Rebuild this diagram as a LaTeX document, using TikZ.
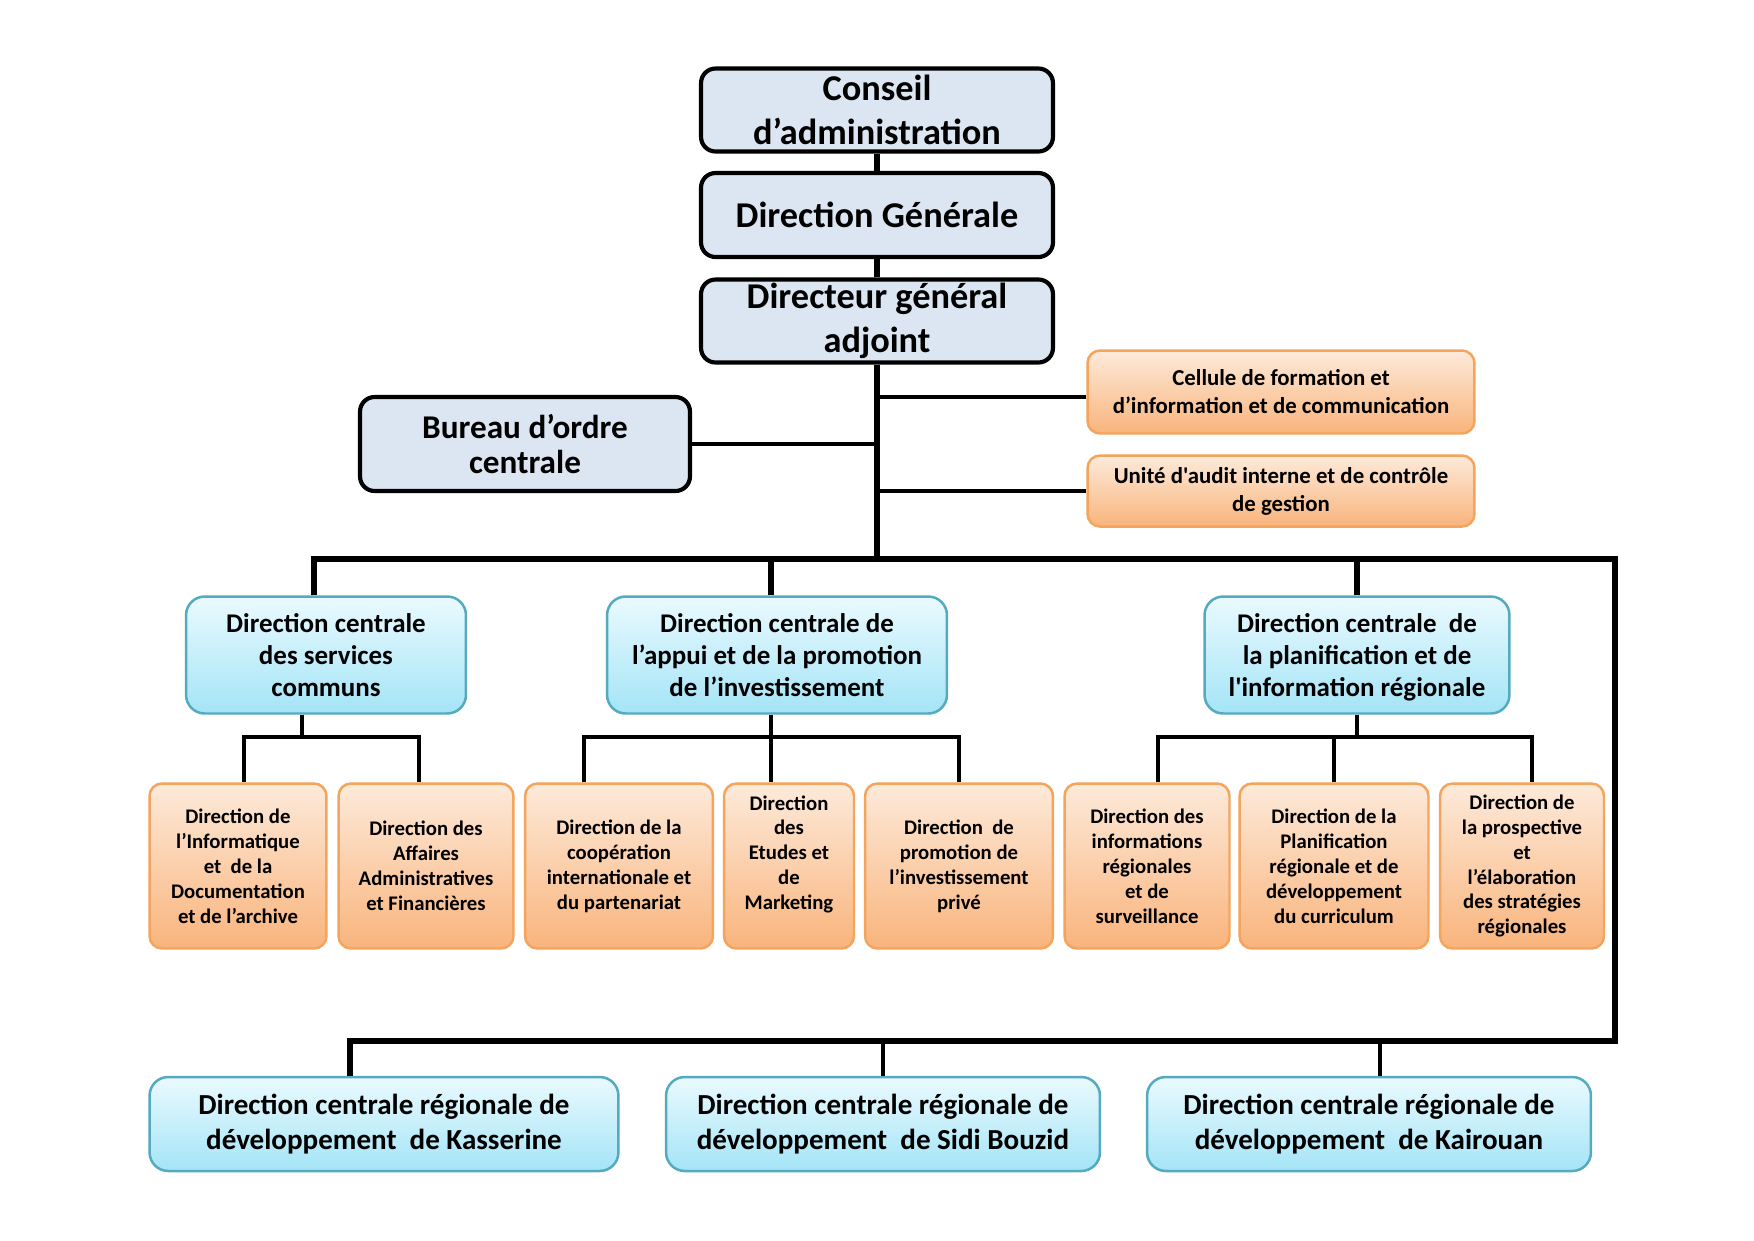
\documentclass[tikz,border=0pt]{standalone}
\usepackage{fontspec}
\setmainfont{Carlito}[Ligatures=TeXOff]
\usepackage{xcolor}
\usepackage{tikz}
\usetikzlibrary{positioning, calc}
\definecolor{topfill}{RGB}{220,230,242}
\definecolor{bluetop}{RGB}{234,250,254}
\definecolor{bluebot}{RGB}{164,228,247}
\definecolor{blueline}{RGB}{84,170,190}
\definecolor{orangetop}{RGB}{253,234,218}
\definecolor{orangebot}{RGB}{249,180,124}
\definecolor{orangeline}{RGB}{244,164,92}
\tikzset{
    boxsize/.style 2 args={minimum width=#1*0.4818pt, minimum height=#2*0.4818pt},
    topbox/.style={draw=black, line width=2pt, fill=topfill, rounded corners=7pt,
        align=center, inner sep=0pt, font=\fontsize{17.5}{21.5}\selectfont\bfseries},
    bluebox/.style={draw=blueline, line width=1.2pt, top color=bluetop, bottom color=bluebot,
        rounded corners=9pt, align=center, inner sep=0pt},
    orangebox/.style={draw=orangeline, line width=1.2pt, top color=orangetop, bottom color=orangebot,
        rounded corners=6pt, align=center, inner sep=0pt},
    bus/.style={line width=2.6pt},
    conn/.style={line width=1.8pt},
}

\begin{document}
\begin{tikzpicture}[x=0.016933cm, y=-0.016933cm]
    \useasboundingbox[fill=white] (0,0) rectangle (1754,1240);

    % direction
    \node[topbox, boxsize={352}{83}] (conseil) at (877,110) {Conseil\\d’administration};
    \node[topbox, boxsize={352}{84}] (dg) at (877,215) {Direction Générale};
    \node[topbox, boxsize={352}{83}] (dga) at (877,321) {Directeur général\\adjoint};
    \node[topbox, boxsize={330}{94}, font=\fontsize{16}{16.5}\selectfont\bfseries] (bureau) at (525,444) {Bureau d’ordre\\centrale};
    \node[orangebox, boxsize={387}{83}, font=\fontsize{11}{13.5}\selectfont\bfseries] (cellule) at (1281,392) {Cellule de formation et\\d’information et de communication};
    \node[orangebox, boxsize={387}{71}, font=\fontsize{11}{13.5}\selectfont\bfseries] (unite) at (1281,491) {Unité d'audit interne et de contrôle\\de gestion};

    % directions centrales
    \tikzset{every node/.append style={font=\fontsize{13}{15.6}\selectfont\bfseries}}
    \node[bluebox, boxsize={280}{117}] (dcsc) at (326,655) {Direction centrale\\des services\\communs};
    \node[bluebox, boxsize={340}{117}] (dcapi) at (777,655) {Direction centrale de\\l’appui et de la promotion\\de l’investissement};
    \node[bluebox, boxsize={305}{117}] (dcpir) at (1357,655) {Direction centrale~ de\\la planification et de\\l'information \smash{régionale}};

    % directions
    \tikzset{every node/.append style={font=\fontsize{10}{12}\selectfont\bfseries}}
    \node[orangebox, boxsize={177}{165}] (info) at (238,866) {Direction de\\l’Informatique\\et~ de la\\Documentation\\et de l’archive};
    \node[orangebox, boxsize={175}{165}] (aff) at (426,866) {Direction des\\Affaires\\Administratives\\et Financières};
    \node[orangebox, boxsize={188}{165}] (coop) at (619,866) {Direction de la\\coopération\\internationale et\\du partenariat};
    \node[orangebox, boxsize={130}{165}] (etudes) at (789,866) {Direction\\des\\Etudes et\\de\\Marketing\\[1pt]};
    \node[orangebox, boxsize={188}{165}] (promo) at (959,866) {Direction~ de\\promotion de\\l’investissement\\privé};
    \node[orangebox, boxsize={165}{165}] (infreg) at (1147,866) {Direction des\\informations\\régionales\\et de\\surveillance};
    \node[orangebox, boxsize={189}{165}] (planif) at (1334,866) {Direction de la\\Planification\\régionale et de\\développement\\du curriculum};
    \node[orangebox, boxsize={164}{165}] (prosp) at (1522,866) {Direction de\\la prospective\\et\\l’élaboration\\des stratégies\\régionales};

    % directions régionales
    \tikzset{every node/.append style={font=\fontsize{14}{16.7}\selectfont\bfseries}}
    \node[bluebox, boxsize={469}{94}] (kass) at (384,1124) {Direction centrale régionale de\\développement~ de Kasserine};
    \node[bluebox, boxsize={434}{94}] (sidi) at (883,1124) {Direction centrale régionale de\\développement~ de Sidi Bouzid};
    \node[bluebox, boxsize={444}{94}] (kair) at (1369,1124) {Direction centrale régionale de\\développement~ de Kairouan};

    % liaisons
    \coordinate (celW) at ($(cellule.west)+(0,5)$);
    \coordinate (busW) at (314,559);
    \coordinate (busA) at (771,559);
    \coordinate (busNE) at (1615,559);
    \coordinate (busSE) at (1615,1041);
    \coordinate (busSW) at (350,1041);
    \coordinate (busK) at (1380,1041);
    \coordinate (hub1) at (302,737);
    \coordinate (hub2) at (771,737);
    \coordinate (hub3) at (1357,737);

    \draw[bus] (conseil) -- (dg);
    \draw[bus] (dg) -- (dga);
    \draw[bus] (dga.south) -- (dga.south |- busNE);
    \draw[conn] (celW) -- (celW -| dga.south);
    \draw[conn] (bureau.east) -- (bureau.east -| dga.south);
    \draw[conn] (unite.west) -- (unite.west -| dga.south);
    \draw[bus] (busW |- dcsc.north) -- (busW) -- (busNE) -- (busSE) -- (busSW) -- (busSW |- kass.north);
    \draw[bus] (busA) -- (busA |- dcapi.north);
    \draw[bus] (dcpir.north) -- (dcpir.north |- busNE);
    \draw[conn] (sidi.north) -- (sidi.north |- busSE);
    \draw[conn] (busK) -- (busK |- kair.north);

    \draw[conn] (hub1 |- dcsc.south) -- (hub1);
    \draw[conn] ($(info.north)+(6,0)$) |- (hub1) -| ($(aff.north)+(-7,0)$);
    \draw[conn] (hub2 |- dcapi.south) -- (hub2) -- (hub2 |- etudes.north);
    \draw[conn] ($(coop.north)+(-35,0)$) |- (hub2) -| (promo.north);
    \draw[conn] (dcpir.south) -- (hub3);
    \draw[conn] ($(infreg.north)+(11,0)$) |- (hub3) -| ($(prosp.north)+(10,0)$);
    \draw[conn] (planif.north) -- (planif.north |- hub3);
\end{tikzpicture}
\end{document}
